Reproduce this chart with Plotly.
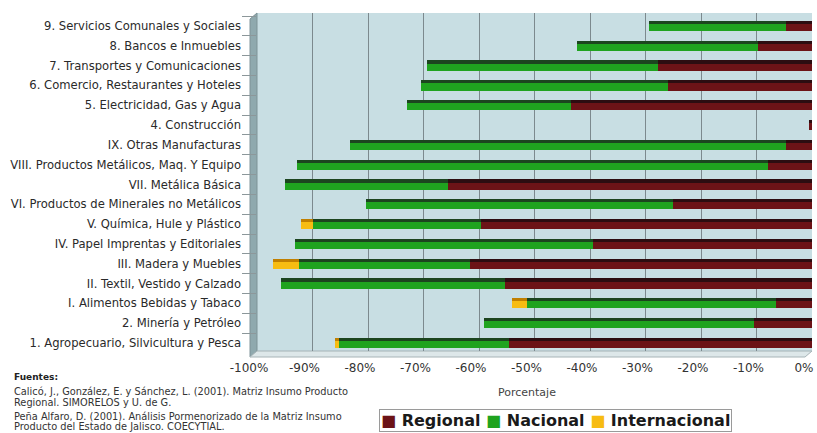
import plotly.graph_objects as go

# Sectores (de arriba hacia abajo) y estructura de compras por origen, en %
categories = [
    "9. Servicios Comunales y Sociales",
    "8. Bancos e Inmuebles",
    "7. Transportes y Comunicaciones",
    "6. Comercio, Restaurantes y Hoteles",
    "5. Electricidad, Gas y Agua",
    "4. Construcción",
    "IX. Otras Manufacturas",
    "VIII. Productos Metálicos, Maq. Y Equipo",
    "VII. Metálica Básica",
    "VI. Productos de Minerales no Metálicos",
    "V. Química, Hule y Plástico",
    "IV. Papel Imprentas y Editoriales",
    "III. Madera y Muebles",
    "II. Textil, Vestido y Calzado",
    "I. Alimentos Bebidas y Tabaco",
    "2. Minería y Petróleo",
    "1. Agropecuario, Silvicultura y Pesca",
]
regional = [4.6, 9.7, 27.8, 25.9, 43.5, 0.6, 4.6, 7.9, 65.5, 25.0,
            59.7, 39.5, 61.6, 55.3, 6.4, 10.4, 54.6]
nacional = [24.8, 32.6, 41.6, 44.5, 29.5, 0.0, 78.7, 84.9, 29.5, 55.4,
            30.2, 53.7, 30.8, 40.3, 44.9, 48.7, 30.6]
internacional = [0.0, 0.0, 0.0, 0.0, 0.0, 0.0, 0.0, 0.0, 0.0, 0.0,
                 2.1, 0.0, 4.8, 0.0, 2.8, 0.0, 0.8]
x_ticks = [-100, -90, -80, -70, -60, -50, -40, -30, -20, -10, 0]
x_tick_labels = ["-100%", "-90%", "-80%", "-70%", "-60%", "-50%",
                 "-40%", "-30%", "-20%", "-10%", "0%"]

W, H = 817, 433
L, R, T, B = 257, 814, 13, 351   # plot area in pixels


def px(xp):
    return (xp - L) / (R - L)


def py(yp):
    return (B - yp) / (B - T)


# segments grow leftwards from 0: regional, then nacional, then internacional
series = [
    ("Regional", regional, "#2c0d11", "#6c1317"),
    ("Nacional", nacional, "#1c451f", "#1fa31f"),
    ("Internacional", internacional, "#c07f00", "#f7bc12"),
]

fig = go.Figure()
cum = [0.0] * len(categories)
for name, vals, dark, bright in series:
    base = [-c for c in cum]
    length = [-v for v in vals]
    # dark upper face of the bar
    fig.add_trace(go.Bar(
        y=categories, x=length, base=base, orientation="h", name=name,
        marker=dict(color=dark, line=dict(width=0)),
        width=0.52, offset=-0.26, showlegend=False,
    ))
    # brighter lower face
    fig.add_trace(go.Bar(
        y=categories, x=length, base=base, orientation="h", name=name,
        marker=dict(color=bright, line=dict(width=0)),
        width=0.36, offset=-0.10, showlegend=False,
    ))
    cum = [c + v for c, v in zip(cum, vals)]

# category axis range so rows sit at their positions inside the wall
row0, step = 26.0, 19.81
y_top = (T - row0) / step
y_bot = (B - row0) / step

shapes = [
    # left side wall
    dict(type="path", xref="paper", yref="paper", layer="below",
         path=f"M {px(250)},{py(19)} L {px(L)},{py(T)} L {px(L)},{py(B)} L {px(250)},{py(357)} Z",
         fillcolor="#8fa9ae", line=dict(color="#7d9297", width=1)),
    # floor
    dict(type="path", xref="paper", yref="paper", layer="below",
         path=f"M {px(L)},{py(B)} L {px(R)},{py(B)} L {px(807)},{py(357)} L {px(250)},{py(357)} Z",
         fillcolor="#dde7e9", line=dict(color="#a6b3b6", width=1)),
]


def note(text, xp, yp, size, color="#333333", anchor="left"):
    return dict(text=text, xref="paper", yref="paper", x=px(xp), y=py(yp),
                xanchor=anchor, yanchor="middle", showarrow=False,
                font=dict(size=size, color=color))


annotations = [
    note("Porcentaje", 528, 392, 11, "#444444", "center"),
    note("<b>Fuentes:</b>", 11, 377, 9, "#222222"),
    note("Calicó, J., González, E. y Sánchez, L. (2001). Matriz Insumo Producto", 11, 391, 9.8),
    note("Regional. SIMORELOS y U. de G.", 11, 402, 9.8),
    note("Peña Alfaro, D. (2001). Análisis Pormenorizado de la Matriz Insumo", 11, 416, 9.8),
    note("Producto del Estado de Jalisco. COECYTIAL.", 11, 426.5, 9.8),
]
# legend
legend_box = note(
    "<b><span style='color:#6c1317'>■</span> Regional "
    "<span style='color:#1fa31f'>■</span> Nacional "
    "<span style='color:#f7bc12'>■</span> Internacional</b>",
    379, 420, 16, "#1a1a1a")
legend_box.update(bordercolor="#9a9a9a", borderwidth=1, borderpad=1, bgcolor="white")
annotations.append(legend_box)

fig.update_layout(
    width=W, height=H,
    margin=dict(l=L, r=W - R, t=T, b=H - B, pad=0),
    paper_bgcolor="white", plot_bgcolor="#c8dee3",
    barmode="overlay", bargap=0,
    font=dict(family="DejaVu Sans, Verdana, sans-serif", color="#2a2a2a"),
    shapes=shapes, annotations=annotations,
    showlegend=False,
)
fig.update_xaxes(
    range=[-100, 0], tickvals=x_ticks, ticktext=x_tick_labels,
    showgrid=True, gridcolor="#7c898e", gridwidth=1,
    zeroline=False, showline=False, ticks="",
    tickfont=dict(size=12, color="#333333"),
    ticklabelshift=-8, ticklabelstandoff=8,
    fixedrange=True,
)
fig.update_yaxes(
    type="category", categoryorder="array", categoryarray=categories,
    range=[y_bot, y_top], showgrid=False, zeroline=False, showline=False,
    ticks="outside", tickson="boundaries", ticklen=14, tickcolor="#8c979a",
    ticklabelstandoff=15,
    tickfont=dict(size=11.6, color="#2a2a2a"),
    fixedrange=True,
)

fig.write_html("out.html")
